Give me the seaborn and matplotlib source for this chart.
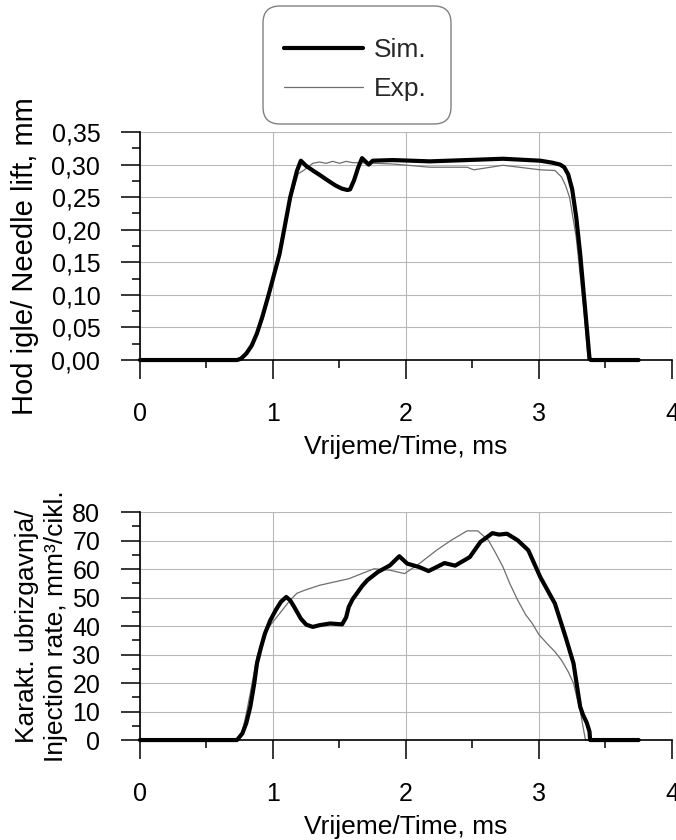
import numpy as np
import pandas as pd
import seaborn as sns
import matplotlib.pyplot as plt
from matplotlib.patches import FancyBboxPatch
from matplotlib.transforms import IdentityTransform
from matplotlib.ticker import MultipleLocator, FuncFormatter

sns.set_theme(style='ticks')
plt.rcParams['font.family'] = ['Liberation Sans', 'DejaVu Sans']

# needle lift, mm (top panel)
sim_lift_t = [0, 0.73, 0.76, 0.80, 0.84, 0.88, 0.92, 0.97, 1.05, 1.13, 1.18, 1.21, 1.25,
              1.30, 1.36, 1.41, 1.47, 1.52, 1.56, 1.58, 1.61, 1.64, 1.67, 1.69, 1.72,
              1.75, 1.90, 2.18, 2.46, 2.73, 3.01, 3.10, 3.16, 3.19, 3.22, 3.25, 3.28,
              3.31, 3.35, 3.38, 3.39, 3.75]
sim_lift = [0, 0, 0.002, 0.010, 0.022, 0.041, 0.066, 0.102, 0.163, 0.250, 0.290, 0.306,
            0.298, 0.291, 0.283, 0.276, 0.268, 0.263, 0.261, 0.262, 0.276, 0.295, 0.310,
            0.306, 0.300, 0.306, 0.307, 0.305, 0.307, 0.309, 0.306, 0.303, 0.300, 0.296,
            0.285, 0.262, 0.220, 0.163, 0.072, 0.003, 0, 0]
exp_lift_t = [0, 0.73, 0.80, 0.86, 0.92, 0.97, 1.08, 1.13, 1.19, 1.23, 1.30, 1.35, 1.40,
              1.45, 1.50, 1.55, 1.60, 1.63, 1.90, 2.18, 2.46, 2.51, 2.73, 3.01, 3.12,
              3.17, 3.20, 3.23, 3.28, 3.34, 3.37, 3.75]
exp_lift = [0, 0, 0.012, 0.031, 0.060, 0.097, 0.189, 0.245, 0.286, 0.291, 0.302, 0.304,
            0.302, 0.305, 0.302, 0.305, 0.303, 0.303, 0.301, 0.296, 0.296, 0.292, 0.299,
            0.292, 0.291, 0.281, 0.268, 0.250, 0.189, 0.072, 0, 0]

# injection rate, mm3/cikl. (bottom panel)
sim_rate_t = [0, 0.73, 0.77, 0.80, 0.83, 0.86, 0.88, 0.91, 0.94, 0.98, 1.02, 1.06, 1.10,
              1.13, 1.16, 1.21, 1.25, 1.30, 1.35, 1.43, 1.52, 1.55, 1.57, 1.60, 1.63,
              1.67, 1.71, 1.79, 1.88, 1.95, 2.01, 2.10, 2.17, 2.29, 2.37, 2.48, 2.56,
              2.65, 2.70, 2.76, 2.84, 2.92, 3.01, 3.12, 3.20, 3.26, 3.31, 3.33, 3.36,
              3.38, 3.385, 3.75]
sim_rate = [0, 0, 2.3, 6.0, 11.7, 20.0, 26.9, 32.5, 37.4, 42.0, 45.5, 48.5, 50.2, 49.0,
            46.7, 42.6, 40.5, 39.7, 40.3, 40.9, 40.6, 43.0, 46.7, 49.5, 51.4, 54.0, 56.1,
            59.0, 61.3, 64.5, 61.9, 60.7, 59.3, 62.1, 61.2, 64.2, 69.5, 72.6, 72.1, 72.4,
            70.1, 66.6, 57.2, 47.9, 36.2, 26.9, 11.7, 9.0, 6.0, 3.0, 0, 0]
exp_rate_t = [0, 0.745, 0.77, 0.80, 0.84, 0.88, 0.92, 0.97, 1.05, 1.13, 1.18, 1.24, 1.35,
              1.57, 1.76, 1.88, 1.99, 2.10, 2.23, 2.34, 2.46, 2.54, 2.62, 2.67, 2.73,
              2.78, 2.84, 2.90, 2.95, 3.00, 3.06, 3.12, 3.17, 3.22, 3.26, 3.29, 3.31,
              3.33, 3.35, 3.75]
exp_rate = [0, 0, 3.0, 9.3, 19.0, 29.2, 35.0, 39.7, 44.4, 49.1, 51.5, 52.6, 54.3, 56.6,
            60.1, 59.6, 58.4, 61.9, 66.6, 70.1, 73.4, 73.4, 70.1, 66.0, 60.7, 55.0, 49.1,
            44.0, 40.9, 37.0, 33.9, 31.0, 28.0, 24.0, 19.9, 14.0, 10.5, 5.0, 0, 0]

fig = plt.figure(figsize=(6.76, 8.4), dpi=100)
ax1 = fig.add_axes([0.207, 0.5714, 0.787, 0.2714])
ax2 = fig.add_axes([0.207, 0.119, 0.787, 0.2714])

panels = [
    (ax1, sim_lift_t, sim_lift, exp_lift_t, exp_lift, 0.35, 0.05, 0.025,
     'Hod igle/ Needle lift, mm', 21, (-0.19, 0.456)),
    (ax2, sim_rate_t, sim_rate, exp_rate_t, exp_rate, 80, 10, 5,
     'Karakt. ubrizgavnja/\nInjection rate, mm³/cikl.', 19, (-0.136, 0.5)),
]

for ax, st, sv, et, ev, ymax, ymaj, ymin, ylab, yfs, lab_xy in panels:
    sns.lineplot(x=et, y=ev, ax=ax, color='#6e6e6e', linewidth=0.9,
                 estimator=None, label='Exp.', clip_on=False)
    sns.lineplot(x=st, y=sv, ax=ax, color='black', linewidth=3.0,
                 estimator=None, label='Sim.', clip_on=False)
    ax.set_xlim(0, 4)
    ax.set_ylim(0, ymax)
    ax.xaxis.set_major_locator(MultipleLocator(1))
    ax.xaxis.set_minor_locator(MultipleLocator(0.5))
    ax.yaxis.set_major_locator(MultipleLocator(ymaj))
    ax.yaxis.set_minor_locator(MultipleLocator(ymin))
    if ymax < 1:
        ax.yaxis.set_major_formatter(FuncFormatter(lambda v, p: f'{v:.2f}'.replace('.', ',')))
    ax.grid(True, which='major', color='#b8b8b8', linewidth=0.8)
    ax.set_axisbelow(True)
    sns.despine(ax=ax)
    for s in ('left', 'bottom'):
        ax.spines[s].set_linewidth(1.2)
        ax.spines[s].set_color('black')
    ax.tick_params(which='major', direction='out', length=13.5, width=1.1,
                   color='black', labelsize=18, pad=15, labelcolor='black')
    ax.tick_params(axis='x', which='major', pad=17)
    ax.tick_params(which='minor', direction='out', length=6, width=1.1, color='black')
    ax.set_xlabel('Vrijeme/Time, ms', fontsize=19, labelpad=6, color='black')
    ax.set_ylabel(ylab, fontsize=yfs, color='black', linespacing=1.25)
    ax.yaxis.set_label_coords(*lab_xy)
    ax.get_legend().remove()

# rounded legend box (pixel coords, figure saved at 100 dpi)
box = FancyBboxPatch((263, 840 - 124), 188, 118, boxstyle='round,pad=0,rounding_size=17',
                     transform=IdentityTransform(), facecolor='white',
                     edgecolor='#808080', linewidth=1.0)
fig.patches.append(box)

handles, labels = ax1.get_legend_handles_labels()
leg = fig.legend(handles[::-1], labels[::-1], loc='center',
                 bbox_to_anchor=(355 / 676, 1 - 69.5 / 840), fontsize=19,
                 frameon=False, handlelength=3.0, handletextpad=0.4,
                 borderpad=0, labelspacing=0.58, borderaxespad=0)

plt.savefig('out.png', dpi=100)
